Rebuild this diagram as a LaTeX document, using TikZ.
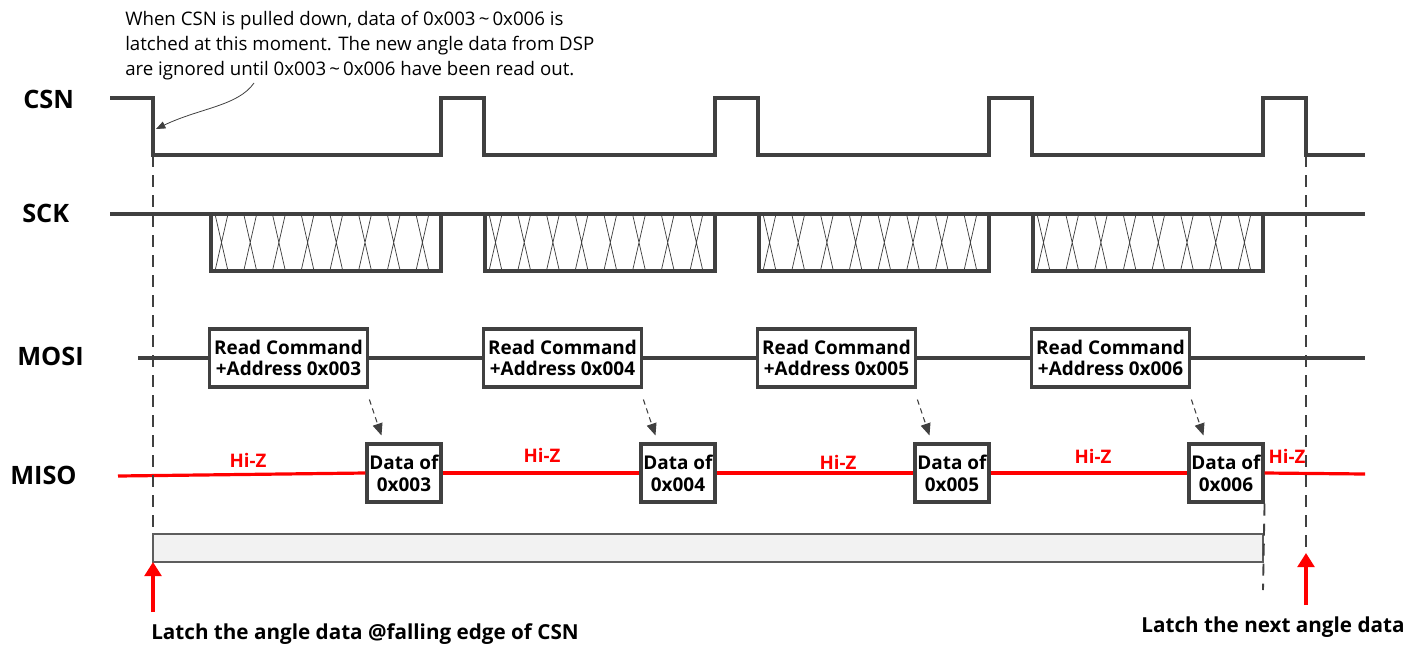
\documentclass[tikz,border=0pt]{standalone}
\usepackage{fontspec}
\setmainfont{Open Sans}
\usetikzlibrary{arrows.meta, calc}
\definecolor{wire}{HTML}{404040}
\definecolor{barfill}{HTML}{F2F2F2}

\begin{document}
\begin{tikzpicture}[x=0.75pt, y=-0.75pt,
  sig/.style={draw=wire, line width=2.3pt},
  hatch/.style={draw=wire, line width=0.55pt},
  busbox/.style={rectangle, draw=wire, line width=2.3pt, fill=white, align=center, inner sep=0pt, font=\fontsize{14.2}{16.3}\selectfont\bfseries},
  cmdbox/.style={busbox, minimum width=119pt, minimum height=43.5pt},
  datbox/.style={busbox, minimum width=55.5pt, minimum height=43.5pt},
  siglabel/.style={anchor=west, inner sep=0pt, font=\fontsize{19}{22}\selectfont\bfseries},
  hiz/.style={text=red, font=\fontsize{14}{16}\selectfont\bfseries},
  miso/.style={draw=red, line width=2.4pt},
  guide/.style={draw=wire, line width=1.4pt, dash pattern=on 9pt off 6pt},
  link/.style={-{Triangle[length=9pt, width=7.5pt]}, draw=wire, line width=0.8pt, dash pattern=on 4pt off 3pt},
  note/.style={-{Triangle[length=7pt, width=5.5pt]}, draw=wire, line width=0.6pt},
  latch/.style={-{Triangle[length=10.5pt, width=12.5pt]}, draw=red, line width=2.4pt},
  bar/.style={rectangle, draw=wire!85, fill=barfill, line width=1.3pt, minimum width=832.5pt, minimum height=21pt, inner sep=0pt, outer sep=0pt},
  caption/.style={anchor=base, font=\fontsize{15.5}{18}\selectfont\bfseries}
]
\useasboundingbox (0,0) rectangle (1419,646);

% Signal names
\node[siglabel] (csn) at (23,99) {CSN};
\node[siglabel] (sck) at (22,213.5) {SCK};
\node[siglabel] (mosi) at (17,356.5) {MOSI};
\node[siglabel] (miso) at (10,475.5) {MISO};

% Note on the falling edge
\node[anchor=north west, align=left, inner sep=0pt, font=\fontsize{14}{18.75}\selectfont] (note) at (125,11)
  {When CSN is pulled down, data of 0x003\,\textasciitilde\,0x006 is\\
   latched at this moment. The new angle data from DSP\\
   are ignored until 0x003\,\textasciitilde\,0x006 have been read out.};

% CSN
\draw[sig] (110,98) -- (153,98) -- (153,155)
  \foreach \r in {441,715,989,1263} { -- (\r,155) -- (\r,98) -- ({\r+43},98) -- ({\r+43},155) }
  -- (1365,155);

% SCK
\draw[sig] (110,214) -- (1365,214);
\foreach \r in {441,715,989,1263} {
  \draw[sig] ({\r-230},214) -- ({\r-230},271) -- (\r,271) -- (\r,214);
  \foreach \j in {0,...,7} {
    \draw[hatch] ({\r-226+28.7*\j},214) -- ({\r-213+28.7*\j},271)
                 ({\r-213+28.7*\j},214) -- ({\r-226+28.7*\j},271);
  }
}

% MOSI / MISO frames
\foreach \r/\a [count=\i] in {441/3,715/4,989/5,1263/6} {
  \node[cmdbox] (cmd\i) at ({\r-152.5},358) {Read Command\\+Address 0x00\a};
  \node[datbox] (dat\i) at ({\r-37},473) {Data of\\0x00\a};
}

\coordinate (mosiL) at (138,358);
\coordinate (mosiR) at (1365,358);
\draw[sig] (mosiL) -- (cmd1.west);
\foreach \i/\k in {1/2,2/3,3/4}
  \draw[sig] (cmd\i.east) -- (cmd\k.west);
\draw[sig] (cmd4.east) -- (mosiR);

\coordinate (misoL) at (118,476);
\coordinate (misoR) at (1365,474);
\draw[miso] (misoL) -- (dat1.west);
\foreach \i/\k in {1/2,2/3,3/4}
  \draw[miso] (dat\i.east) -- (dat\k.west);
\draw[miso] (dat4.east) -- (misoR);

% Hi-Z
\node[hiz] (hz1) at (248,460) {Hi-Z};
\node[hiz] (hz2) at (542,455) {Hi-Z};
\node[hiz] (hz3) at (838,462) {Hi-Z};
\node[hiz] (hz4) at (1093,456) {Hi-Z};
\node[hiz] (hz5) at (1287,456) {Hi-Z};

% command -> data
\foreach \i in {1,...,4}
  \draw[link] ($(cmd\i.south east)+(0,11)$) -- ($(dat\i.north west)+(16,-7)$);

% Latch window
\node[bar] (bar) at (708,548) {};

\coordinate (fall) at (153,155);
\coordinate (endA) at (1263,590);
\coordinate (riseB) at (1306,155);
\coordinate (tipB) at (1306,553);
\coordinate (latchA) at (153,612);
\coordinate (latchB) at (1306,605);
\draw[guide] (fall) -- (bar.north west);
\draw[guide] (dat4.south east) -- (endA);
\draw[guide] (riseB) -- (tipB);

\draw[latch] (latchA) -- (bar.south west);
\draw[latch] (latchB) -- (tipB);

\coordinate (noteFrom) at (254,83);
\coordinate (noteTip) at (156,129);
\draw[note] (noteFrom) .. controls (238,106) and (200,108) .. (noteTip);

% Captions
\node[caption] (capA) at (365,639) {Latch the angle data @falling edge of CSN};
\node[caption] (capB) at (1273,632) {Latch the next angle data};
\end{tikzpicture}
\end{document}
